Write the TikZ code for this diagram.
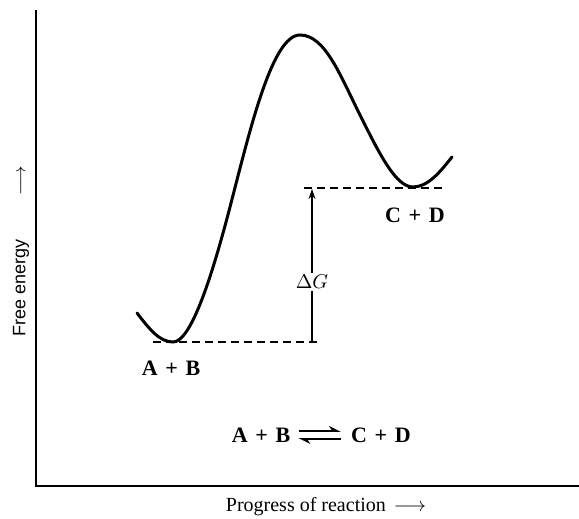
\documentclass[tikz,border=0pt]{standalone}
\usepackage{amsmath}
\usepackage{amssymb}
\usepackage{fontspec}
\setmainfont{Liberation Serif}
\setsansfont{Liberation Sans}
\usetikzlibrary{arrows.meta, positioning}

\begin{document}
\begin{tikzpicture}[
  x=0.5pt, y=-0.5pt,
  axis/.style={line width=0.8pt},
  curve/.style={line width=1.5pt, line cap=round},
  level/.style={line width=0.7pt, dash pattern=on 4pt off 2.5pt},
  species/.style={font=\bfseries\fontsize{11}{13}\selectfont, inner sep=1pt},
  axislabel/.style={font=\normalsize, inner sep=1pt},
  harp/.style={line width=0.9pt, -{Stealth[harpoon, length=5pt, width=5pt]}},
  >=Stealth
]
\useasboundingbox (0,0) rectangle (579,519);

% Axes
\coordinate (top) at (36,10);
\coordinate (origin) at (36,486);
\coordinate (right) at (579,486);
\draw[axis] (top) -- (origin) -- (right);

% Free energy curve
\draw[curve] (137,313) .. controls (150,330) and (160,342) .. (173,342)
  .. controls (190,342) and (210,284) .. (230,207)
  .. controls (250,130) and (272,35) .. (300,35)
  .. controls (325,35) and (340,75) .. (360,115)
  .. controls (380,155) and (396,187) .. (413,187)
  .. controls (428,187) and (440,172) .. (452,157);

% Energy levels
\coordinate (ab) at (153,342);
\coordinate (abend) at (320,342);
\coordinate (cd) at (304,188);
\coordinate (cdend) at (443,188);
\draw[level] (ab) -- (abend);
\draw[level] (cd) -- (cdend);

% Delta G arrow
\coordinate (dgbot) at (312,342);
\coordinate (dgtop) at (312,189);
\node[inner sep=1pt] (dg) at (312,282) {$\Delta G$};
\draw[line width=0.7pt] (dgbot) -- (dg.south);
\draw[line width=0.7pt, -{Stealth[length=5pt, width=3.5pt]}] (dg.north) -- (dgtop);

% Labels
\node[species] (lab) at (171,368) {A\hspace{0.35em}+\hspace{0.35em}B};
\node[species] (lcd) at (415,215) {C\hspace{0.35em}+\hspace{0.35em}D};

% Equilibrium
\node[species] (eqab) at (261,435) {A\hspace{0.35em}+\hspace{0.35em}B};
\node[species] (eqcd) at (381,435) {C\hspace{0.35em}+\hspace{0.35em}D};
\draw[harp] ([xshift=3pt, yshift=2pt]eqab.east) -- ([xshift=-4pt, yshift=2pt]eqcd.west);
\draw[harp] ([xshift=-4pt, yshift=-2pt]eqcd.west) -- ([xshift=3pt, yshift=-2pt]eqab.east);

% Axis labels
\node[axislabel] (xlab) at (326,507)
  {Progress of reaction\hspace{4pt}$\longrightarrow$};
\node[axislabel, font=\sffamily\small, rotate=90] (ylab) at (21,251)
  {Free energy\hspace{22pt}$\longrightarrow$};
\end{tikzpicture}
\end{document}
